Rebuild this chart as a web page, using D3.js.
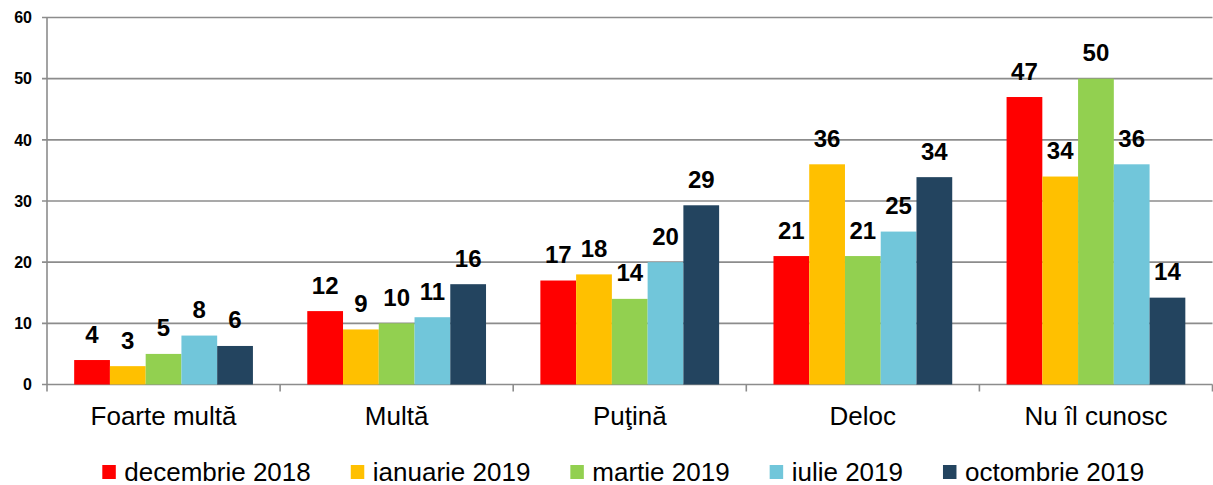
<!DOCTYPE html>
<html lang="ro">
<head>
  <meta charset="UTF-8">
  <title>Chart</title>
  <style>
    html, body { margin: 0; padding: 0; background: #fff; }
    svg { display: block; font-family: Arial, "Liberation Sans", sans-serif; }
    .grid line { stroke: #8c8c8c; stroke-width: 1.6; }
    .tick-label { font-size: 16px; font-weight: bold; fill: #000; }
    .cat-label { font-size: 26px; fill: #000; }
    .val-label { font-size: 24px; font-weight: bold; fill: #000; }
    .legend text { font-size: 26px; fill: #000; }
  </style>
</head>
<body>
  <svg class="chart"></svg>
  <script src="https://cdnjs.cloudflare.com/ajax/libs/d3/7.8.5/d3.min.js"></script>
  <script>
    // data
    const categories = ["Foarte multă", "Multă", "Puţină", "Deloc", "Nu îl cunosc"];
    const seriesNames = ["decembrie 2018", "ianuarie 2019", "martie 2019", "iulie 2019", "octombrie 2019"];
    const dec2018 = [4, 12, 17, 21, 47];
    const ian2019 = [3, 9, 18, 36, 34];
    const mar2019 = [5, 10, 14, 21, 50];
    const iul2019 = [8, 11, 20, 25, 36];
    const oct2019 = [6.3, 16.4, 29.3, 33.9, 14.2];
    const yTicks = [0, 10, 20, 30, 40, 50, 60];
    const colors = ["#ff0000", "#ffc000", "#92d050", "#71c6da", "#23445f"];

    const allSeries = [dec2018, ian2019, mar2019, iul2019, oct2019];

    const svgW = 1213, svgH = 485;
    const plotL = 47, plotR = 1212.5, plotT = 17.5, plotB = 384.5;

    const svg = d3.select("svg.chart").attr("width", svgW).attr("height", svgH);

    const x0 = d3.scaleBand().domain(categories).range([plotL, plotR]).padding(0);
    const x1 = d3.scaleBand().domain(seriesNames).range([0, x0.bandwidth()])
      .paddingInner(0).paddingOuter(0.76);
    const y = d3.scaleLinear().domain([0, 60]).range([plotB, plotT]);

    // gridlines + y ticks
    const grid = svg.append("g").attr("class", "grid");
    grid.selectAll("line.h")
      .data(yTicks)
      .enter().append("line")
      .attr("class", "h")
      .attr("x1", plotL - 5).attr("x2", plotR)
      .attr("y1", d => y(d)).attr("y2", d => y(d));

    // y axis line
    grid.append("line")
      .attr("x1", plotL).attr("x2", plotL)
      .attr("y1", plotT).attr("y2", plotB + 7);

    // category ticks
    const tickXs = categories.slice(1).map(c => x0(c)).concat([plotR]);
    grid.selectAll("line.ct")
      .data(tickXs)
      .enter().append("line")
      .attr("class", "ct")
      .attr("x1", d => d).attr("x2", d => d)
      .attr("y1", plotB).attr("y2", plotB + 7);

    svg.append("g").selectAll("text")
      .data(yTicks)
      .enter().append("text")
      .attr("class", "tick-label")
      .attr("x", 32)
      .attr("y", d => y(d))
      .attr("dy", "0.36em")
      .attr("text-anchor", "end")
      .text(d => d);

    // bars
    const groups = svg.append("g").selectAll("g")
      .data(categories)
      .enter().append("g")
      .attr("transform", d => `translate(${x0(d)},0)`);

    const rowOf = (c, ci) => seriesNames.map((s, si) => ({ s, si, v: allSeries[si][ci] }));

    groups.selectAll("rect")
      .data(rowOf)
      .enter().append("rect")
      .attr("x", d => x1(d.s))
      .attr("width", x1.bandwidth())
      .attr("y", d => y(d.v))
      .attr("height", d => y(0) - y(d.v))
      .attr("fill", d => colors[d.si]);

    groups.selectAll("text")
      .data(rowOf)
      .enter().append("text")
      .attr("class", "val-label")
      .attr("x", d => x1(d.s) + x1.bandwidth() / 2)
      .attr("y", d => y(d.v) - 17.5)
      .attr("text-anchor", "middle")
      .text(d => Math.round(d.v));

    // category labels
    svg.append("g").selectAll("text")
      .data(categories)
      .enter().append("text")
      .attr("class", "cat-label")
      .attr("x", d => x0(d) + x0.bandwidth() / 2)
      .attr("y", 425)
      .attr("text-anchor", "middle")
      .text(d => d);

    // legend
    const legend = svg.append("g").attr("class", "legend");
    let lx = 102.3;
    seriesNames.forEach((name, i) => {
      legend.append("rect")
        .attr("x", lx).attr("y", 465)
        .attr("width", 13.5).attr("height", 14)
        .attr("fill", colors[i]);
      const t = legend.append("text")
        .attr("x", lx + 22).attr("y", 480.5)
        .text(name);
      lx += 22 + t.node().getComputedTextLength() + 40;
    });
  </script>
</body>
</html>
